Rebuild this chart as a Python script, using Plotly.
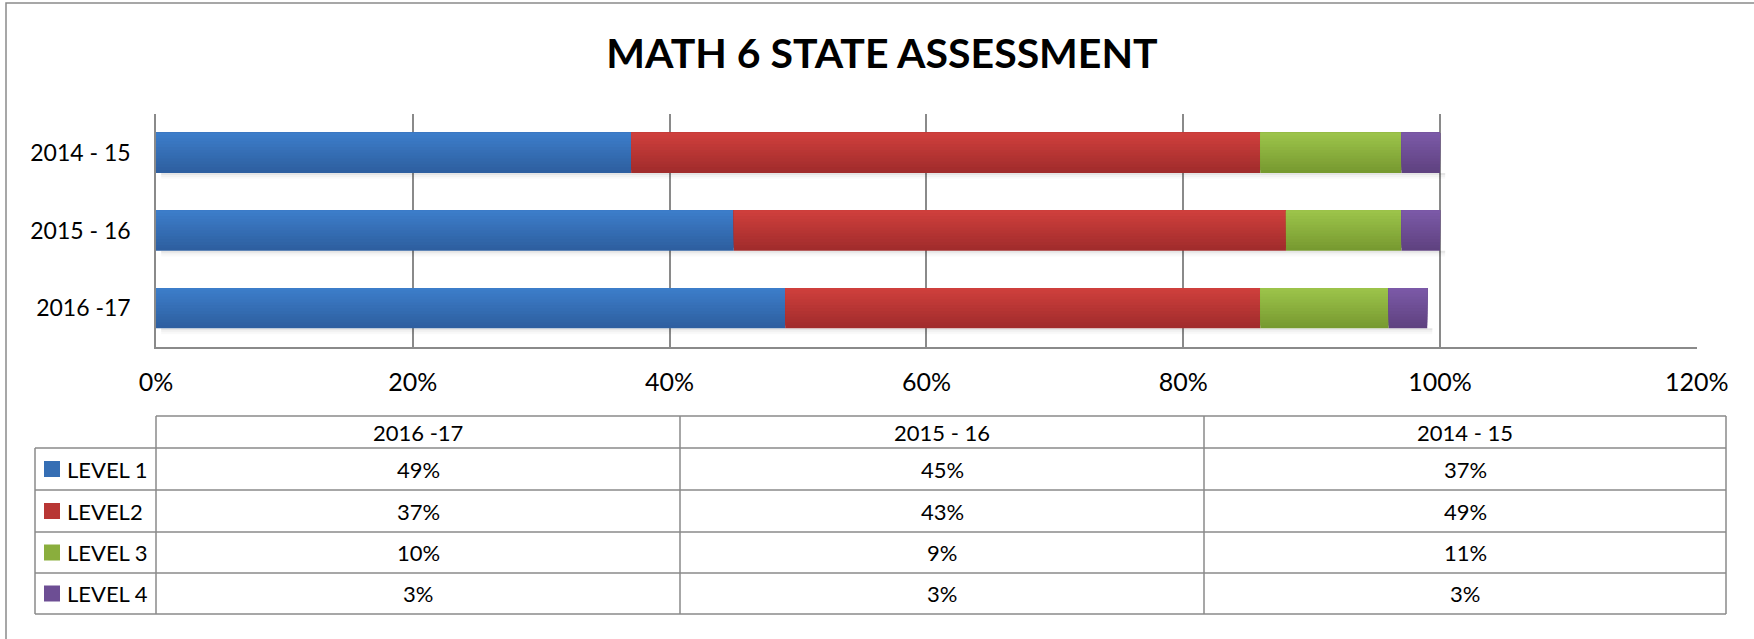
import plotly.graph_objects as go

# ---- data ----
years = ["2016 -17", "2015 - 16", "2014 - 15"]
levels = ["LEVEL 1", "LEVEL2", "LEVEL 3", "LEVEL 4"]
level1 = [0.49, 0.45, 0.37]
level2 = [0.37, 0.43, 0.49]
level3 = [0.10, 0.09, 0.11]
level4 = [0.03, 0.03, 0.03]
x_ticks = [0, 0.2, 0.4, 0.6, 0.8, 1.0, 1.2]
title_text = "MATH 6 STATE ASSESSMENT"

series = [level1, level2, level3, level4]
# (top colour, bottom colour) of each level's vertical gradient
grad = [("#3D7ECB", "#2D5E9E"), ("#D0403D", "#9F2B2B"),
        ("#9DC54B", "#76982F"), ("#7C5AA8", "#5E417F")]

W, H = 1754, 639
FONT = "Lato"
GRAY = "#8a8a8a"


def px(x):
    return x / W


def py(y):
    return 1 - y / H


def hex2rgb(h):
    h = h.lstrip("#")
    return tuple(int(h[i:i + 2], 16) for i in (0, 2, 4))


def mix(c1, c2, t):
    a, b = hex2rgb(c1), hex2rgb(c2)
    return "rgb(%d,%d,%d)" % tuple(round(a[i] + (b[i] - a[i]) * t) for i in range(3))


fig = go.Figure()

BAR_W = 0.52
NSTRIP = 14

# running base (stack) for each year
bases = [[0.0] * len(years)]
for s in series[:-1]:
    bases.append([b + v for b, v in zip(bases[-1], s)])
totals = [b + v for b, v in zip(bases[-1], series[-1])]

# soft shadow under each bar
for k, alpha in enumerate([0.10, 0.05, 0.025]):
    fig.add_trace(go.Bar(
        y=years, x=totals, base=[0.004] * len(years), orientation="h",
        width=0.025, offset=-BAR_W / 2 - 0.025 * (k + 1),
        marker=dict(color=f"rgba(0,0,0,{alpha})", line=dict(width=0)),
        showlegend=False, hoverinfo="skip",
    ))

# gradient bars: each level drawn as overlapping strips, bottom first,
# each strip reaching to the top of the bar so no seams show
for name, vals, base, (ctop, cbot) in zip(levels, series, bases, grad):
    for k in range(NSTRIP):
        t = (k + 0.5) / NSTRIP  # 0 = bottom, 1 = top
        start = -BAR_W / 2 + k * BAR_W / NSTRIP
        fig.add_trace(go.Bar(
            y=years, x=vals, base=base, name=name, orientation="h",
            width=BAR_W / 2 - start, offset=start,
            marker=dict(color=mix(cbot, ctop, t), line=dict(width=0)),
            showlegend=False,
        ))

# ---- data table (lines + text) ----
def pct(v):
    return f"{round(v * 100)}%"


tab_left, leg_right, tab_right = 35, 156, 1726
col_edges = [156, 680, 1204, 1726]
row_edges = [416, 448, 490, 532, 573, 614]

shapes = []
line = dict(color=GRAY, width=1.5)
shapes.append(dict(type="line", xref="paper", yref="paper",
                   x0=px(leg_right), x1=px(tab_right), y0=py(row_edges[0]), y1=py(row_edges[0]), line=line))
for y in row_edges[1:]:
    shapes.append(dict(type="line", xref="paper", yref="paper",
                       x0=px(tab_left), x1=px(tab_right), y0=py(y), y1=py(y), line=line))
shapes.append(dict(type="line", xref="paper", yref="paper",
                   x0=px(tab_left), x1=px(tab_left), y0=py(row_edges[1]), y1=py(row_edges[-1]), line=line))
for x in col_edges:
    shapes.append(dict(type="line", xref="paper", yref="paper",
                       x0=px(x), x1=px(x), y0=py(row_edges[0]), y1=py(row_edges[-1]), line=line))

annotations = []
tfont = dict(family=FONT, size=22, color="black")
for j, yr in enumerate(years):
    xc = (col_edges[j] + col_edges[j + 1]) / 2
    annotations.append(dict(text=yr, xref="paper", yref="paper", x=px(xc),
                            y=py((row_edges[0] + row_edges[1]) / 2),
                            xanchor="center", yanchor="middle", showarrow=False, font=tfont))
for i, (name, vals, (ctop, cbot)) in enumerate(zip(levels, series, grad)):
    yc = (row_edges[i + 1] + row_edges[i + 2]) / 2
    # legend key square
    shapes.append(dict(type="rect", xref="paper", yref="paper",
                       x0=px(44), x1=px(60), y0=py(yc + 8), y1=py(yc - 8),
                       fillcolor=mix(cbot, ctop, 0.5), line=dict(width=0)))
    annotations.append(dict(text=name, xref="paper", yref="paper", x=px(65), y=py(yc),
                            xanchor="left", yanchor="middle", showarrow=False, font=tfont))
    for j in range(len(years)):
        xc = (col_edges[j] + col_edges[j + 1]) / 2
        annotations.append(dict(text=pct(vals[j]), xref="paper", yref="paper", x=px(xc), y=py(yc),
                                xanchor="center", yanchor="middle", showarrow=False, font=tfont))

# outer chart border
shapes.append(dict(type="rect", xref="paper", yref="paper",
                   x0=px(6), x1=1.02, y0=-0.02, y1=py(3),
                   line=dict(color=GRAY, width=1.5), fillcolor="rgba(0,0,0,0)", layer="below"))

fig.update_layout(
    width=W, height=H,
    margin=dict(l=0, r=0, t=0, b=0, autoexpand=False),
    paper_bgcolor="white", plot_bgcolor="white",
    barmode="overlay",
    title=dict(text=f"<b>{title_text}</b>", x=px(882), xanchor="center",
               y=py(54), yanchor="middle",
               font=dict(family=FONT, size=41, color="black")),
    xaxis=dict(
        domain=[px(156), px(1697)], range=[0, 1.2001],
        tickvals=x_ticks, tickformat=".0%",
        showgrid=True, gridcolor=GRAY, gridwidth=1.5,
        zeroline=False, showline=True, linecolor=GRAY, linewidth=1.5,
        ticks="", ticklabelstandoff=12, automargin=False,
        tickfont=dict(family=FONT, size=25, color="black"),
        fixedrange=True,
    ),
    yaxis=dict(
        domain=[py(347), py(114)], range=[-0.5, 2.5],
        categoryorder="array", categoryarray=years,
        showgrid=False, zeroline=False,
        showline=True, linecolor=GRAY, linewidth=1.5,
        ticks="", ticklabelstandoff=19, automargin=False,
        tickfont=dict(family=FONT, size=23, color="black"),
        fixedrange=True,
    ),
    shapes=shapes,
    annotations=annotations,
)

fig.write_html("out.html", config={"displayModeBar": False},
               post_script="document.body.style.margin='0';")
